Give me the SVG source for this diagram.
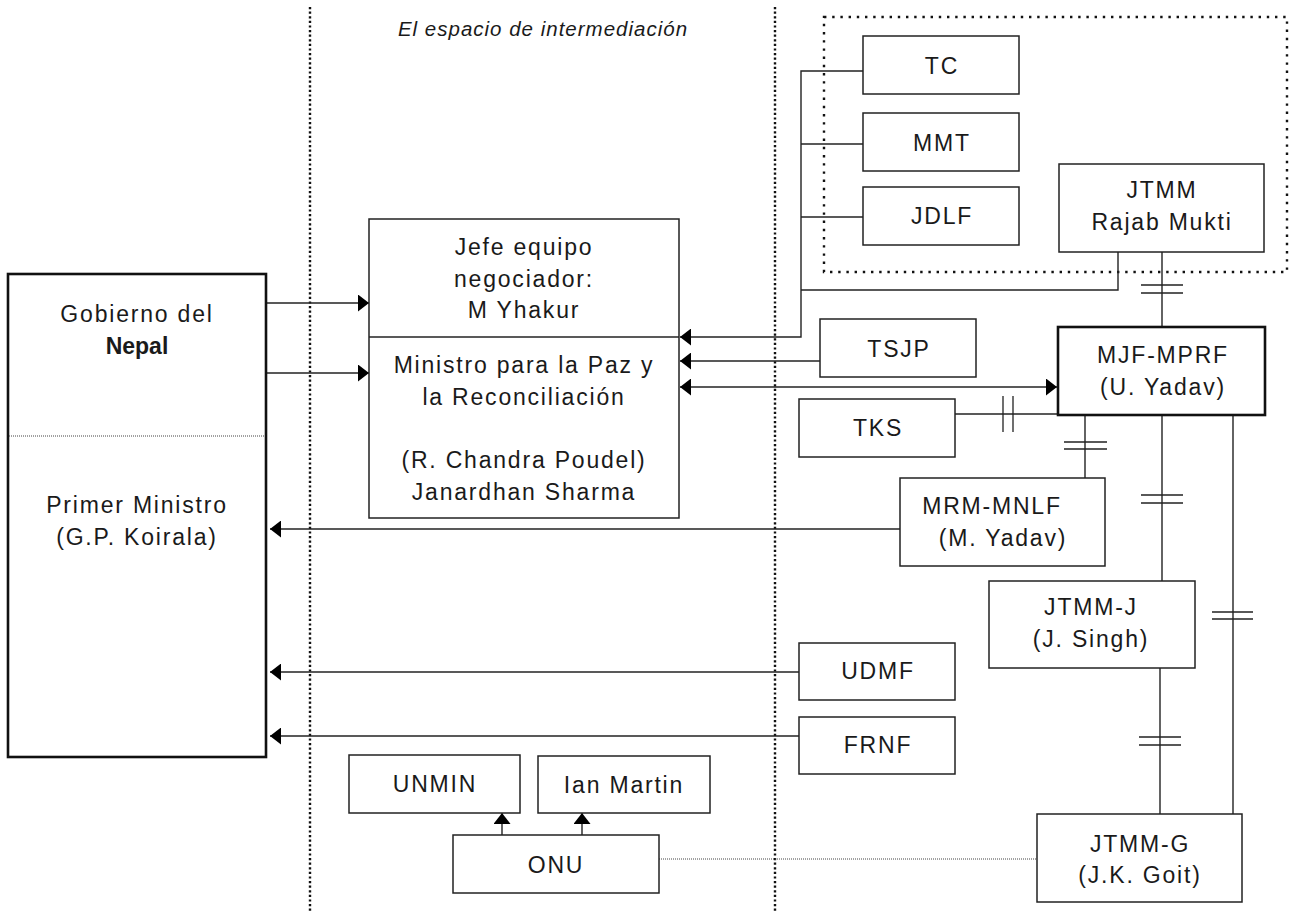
<svg xmlns="http://www.w3.org/2000/svg" width="1294" height="913" viewBox="0 0 1294 913">
<defs>
<style>
.box{fill:#fff;stroke:#222;stroke-width:1.5}
.thick{fill:#fff;stroke:#111;stroke-width:2.6}
.t{font-family:"Liberation Sans",Arial,sans-serif;font-size:23px;letter-spacing:1.8px;fill:#1a1a1a;text-anchor:middle}
.b{font-weight:bold;letter-spacing:0}
.it{font-style:italic;font-size:20.5px;letter-spacing:1px}
.ln{fill:none;stroke:#222;stroke-width:1.4}
.bar{fill:none;stroke:#222;stroke-width:1.3}
.vdot{fill:none;stroke:#111;stroke-width:2.4;stroke-dasharray:2.2 2.4}
.rdot{fill:none;stroke:#111;stroke-width:2.4;stroke-dasharray:2.4 5.8}
.fdot{fill:none;stroke:#444;stroke-width:1;stroke-dasharray:1 1}
</style>
<marker id="ah" viewBox="0 0 11 17" refX="11" refY="8.5" markerWidth="11" markerHeight="17" markerUnits="userSpaceOnUse" orient="auto-start-reverse">
<path d="M0,0 L11,8.5 L0,17 z" fill="#000"/>
</marker>
</defs>
<rect width="1294" height="913" fill="#fff"/>

<g id="zones">
<line class="vdot" x1="310" y1="7" x2="310" y2="913"/>
<line class="vdot" x1="775" y1="7" x2="775" y2="913"/>
<rect class="rdot" x="824" y="17" width="463" height="255"/>
<text class="t it" x="543" y="36">El espacio de intermediación</text>
</g>

<g id="connectors">
<path class="ln" d="M266,303 H369" marker-end="url(#ah)"/>
<path class="ln" d="M266,373 H369" marker-end="url(#ah)"/>
<path class="ln" d="M863,71 H801 V337 H680" marker-end="url(#ah)"/>
<path class="ln" d="M863,144 H801"/>
<path class="ln" d="M863,217 H801"/>
<path class="ln" d="M1118,252 V290 H801"/>
<path class="ln" d="M820,361 H680" marker-end="url(#ah)"/>
<path class="ln" d="M680,387 H1057" marker-start="url(#ah)" marker-end="url(#ah)"/>
<path class="ln" d="M955,414 H1058"/>
<path class="bar" d="M1003,396 V432 M1013,396 V432"/>
<path class="ln" d="M1162,252 V327"/>
<path class="bar" d="M1141,285 H1183 M1141,293 H1183"/>
<path class="ln" d="M1085,415 V478"/>
<path class="bar" d="M1064,442 H1107 M1064,449 H1107"/>
<path class="ln" d="M900,529 H270" marker-end="url(#ah)"/>
<path class="ln" d="M1162,415 V581"/>
<path class="bar" d="M1141,495 H1183 M1141,503 H1183"/>
<path class="ln" d="M1160,668 V814"/>
<path class="bar" d="M1139,737 H1181 M1139,745 H1181"/>
<path class="ln" d="M1233,415 V814"/>
<path class="bar" d="M1212,612 H1253 M1212,619 H1253"/>
<path class="ln" d="M799,672 H270" marker-end="url(#ah)"/>
<path class="ln" d="M799,736 H270" marker-end="url(#ah)"/>
<path class="ln" d="M502,835 V813" marker-end="url(#ah)"/>
<path class="ln" d="M582,835 V813" marker-end="url(#ah)"/>
<path class="fdot" d="M659,859 H1037"/>
</g>

<g id="gobierno">
<rect class="thick" x="8" y="274" width="258" height="483"/>
<line class="fdot" x1="9" y1="436" x2="265" y2="436"/>
<text class="t" x="137" y="322">Gobierno del</text>
<text class="t b" x="137" y="354">Nepal</text>
<text class="t" x="137" y="513">Primer Ministro</text>
<text class="t" x="137" y="545">(G.P. Koirala)</text>
</g>

<g id="jefe">
<rect class="box" x="369" y="219" width="310" height="299"/>
<line class="ln" x1="369" y1="337" x2="679" y2="337"/>
<text class="t" x="524" y="255">Jefe equipo</text>
<text class="t" x="524" y="287">negociador:</text>
<text class="t" x="524" y="318">M Yhakur</text>
<text class="t" x="524" y="373">Ministro para la Paz y</text>
<text class="t" x="524" y="405">la Reconciliación</text>
<text class="t" x="524" y="468">(R. Chandra Poudel)</text>
<text class="t" x="524" y="500">Janardhan Sharma</text>
</g>

<g id="tc"><rect class="box" x="863" y="36" width="156" height="58"/><text class="t" x="942" y="74">TC</text></g>
<g id="mmt"><rect class="box" x="863" y="113" width="156" height="58"/><text class="t" x="942" y="151">MMT</text></g>
<g id="jdlf"><rect class="box" x="863" y="187" width="156" height="58"/><text class="t" x="942" y="224">JDLF</text></g>
<g id="jtmm"><rect class="box" x="1059" y="164" width="205" height="88"/><text class="t" x="1162" y="198">JTMM</text><text class="t" x="1162" y="230">Rajab Mukti</text></g>
<g id="tsjp"><rect class="box" x="820" y="319" width="156" height="58"/><text class="t" x="899" y="357">TSJP</text></g>
<g id="mjf"><rect class="thick" x="1058" y="327" width="207" height="88"/><text class="t" x="1163" y="363">MJF-MPRF</text><text class="t" x="1163" y="395">(U. Yadav)</text></g>
<g id="tks"><rect class="box" x="799" y="399" width="156" height="58"/><text class="t" x="878" y="436">TKS</text></g>
<g id="mrm"><rect class="box" x="900" y="478" width="205" height="88"/><text class="t" x="992" y="514">MRM-MNLF</text><text class="t" x="1003" y="546">(M. Yadav)</text></g>
<g id="jtmmj"><rect class="box" x="989" y="581" width="206" height="87"/><text class="t" x="1091" y="615">JTMM-J</text><text class="t" x="1091" y="647">(J. Singh)</text></g>
<g id="udmf"><rect class="box" x="799" y="643" width="156" height="57"/><text class="t" x="878" y="679">UDMF</text></g>
<g id="frnf"><rect class="box" x="799" y="717" width="156" height="57"/><text class="t" x="878" y="753">FRNF</text></g>
<g id="jtmmg"><rect class="box" x="1037" y="814" width="205" height="88"/><text class="t" x="1140" y="852">JTMM-G</text><text class="t" x="1140" y="883">(J.K. Goit)</text></g>
<g id="unmin"><rect class="box" x="349" y="755" width="171" height="58"/><text class="t" x="435" y="792">UNMIN</text></g>
<g id="ianmartin"><rect class="box" x="538" y="756" width="172" height="57"/><text class="t" x="624" y="793">Ian Martin</text></g>
<g id="onu"><rect class="box" x="453" y="835" width="206" height="58"/><text class="t" x="556" y="873">ONU</text></g>
</svg>
